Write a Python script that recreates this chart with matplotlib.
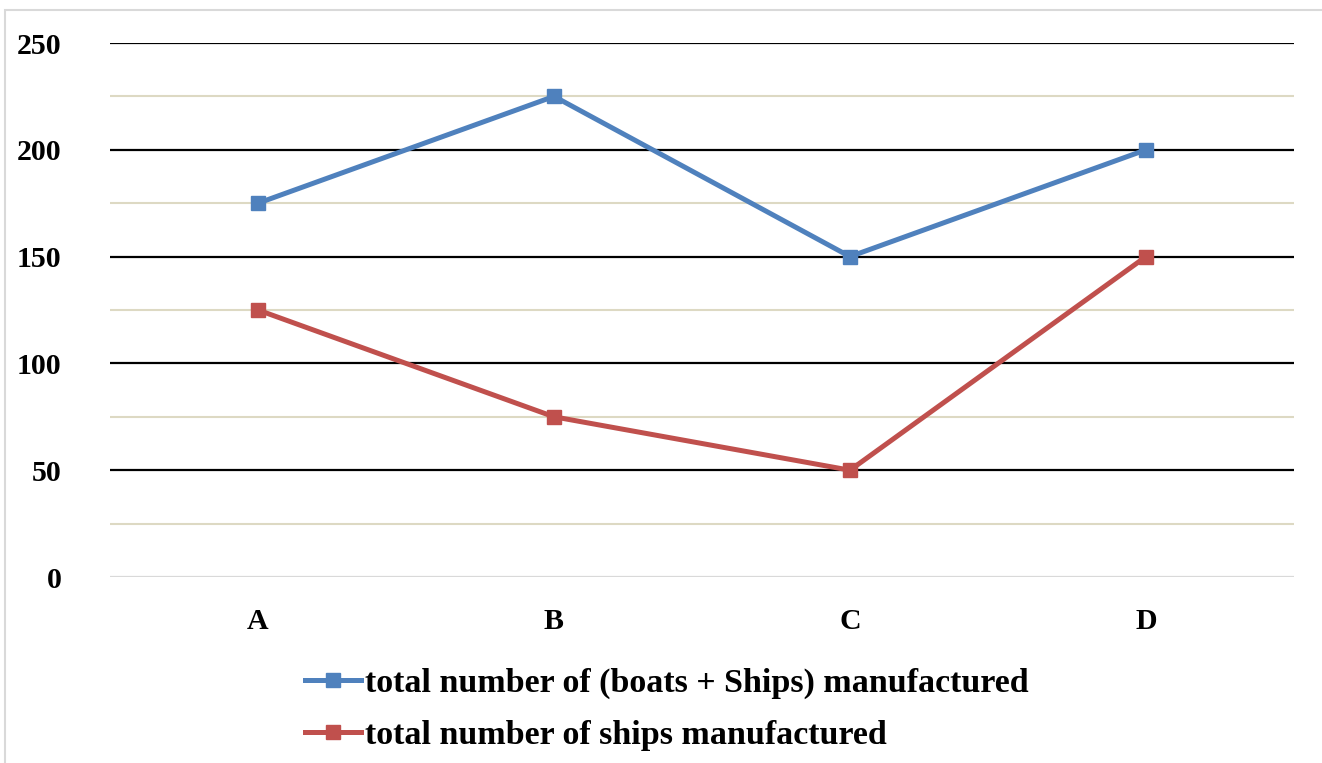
import matplotlib.pyplot as plt
from matplotlib.patches import Rectangle

CATEGORIES = ["A", "B", "C", "D"]
TOTAL_BOATS_SHIPS = [175, 225, 150, 200]
TOTAL_SHIPS = [125, 75, 50, 150]
MAJOR_TICKS = [0, 50, 100, 150, 200, 250]
MINOR_TICKS = [25, 75, 125, 175, 225]

BLUE = "#4f81bd"
RED = "#c0504d"
FONT = "Liberation Serif"

fig = plt.figure(figsize=(13.22, 7.63), dpi=100)
ax = fig.add_axes([110 / 1322, 1 - 577 / 763, 1184 / 1322, 534 / 763])

# chart border (runs off the right and bottom edge like the screenshot)
fig.patches.append(Rectangle((5 / 1322, -0.1), 1.2, 1 - 10 / 763 + 0.1,
                             transform=fig.transFigure, fill=False,
                             edgecolor="#d9d9d9", linewidth=1.5))

x = range(len(CATEGORIES))
ax.plot(x, TOTAL_BOATS_SHIPS, color=BLUE, lw=3.6, marker="s", ms=10,
        label="total number of (boats + Ships) manufactured", zorder=4)
ax.plot(x, TOTAL_SHIPS, color=RED, lw=3.6, marker="s", ms=10,
        label="total number of ships manufactured", zorder=4)

ax.set_xlim(-0.5, len(CATEGORIES) - 0.5)
ax.set_ylim(0, 250)
ax.set_xticks(list(x))
ax.set_xticklabels(CATEGORIES)
ax.set_yticks(MAJOR_TICKS)

for v in MINOR_TICKS:
    ax.axhline(v, color="#ddd9c3", lw=1.5, zorder=1)
for v in MAJOR_TICKS:
    ax.axhline(v, color="#d9d9d9" if v == 0 else "black", lw=1.6, zorder=2)

for s in ax.spines.values():
    s.set_visible(False)
ax.tick_params(length=0)
ax.tick_params(axis="y", pad=35)
ax.tick_params(axis="x", pad=22)
for lab in ax.get_xticklabels() + ax.get_yticklabels():
    lab.set_fontfamily(FONT)
    lab.set_fontweight("bold")
    lab.set_fontsize(21.5)

leg = ax.legend(loc="upper left", bbox_to_anchor=(305 / 1322, 1 - 668 / 763),
                bbox_transform=fig.transFigure, frameon=False,
                prop={"family": FONT, "weight": "bold", "size": 24.5},
                handlelength=1.65, handletextpad=0.1, labelspacing=0.62,
                borderpad=0, borderaxespad=0)

fig.savefig("out.png", dpi=100)
